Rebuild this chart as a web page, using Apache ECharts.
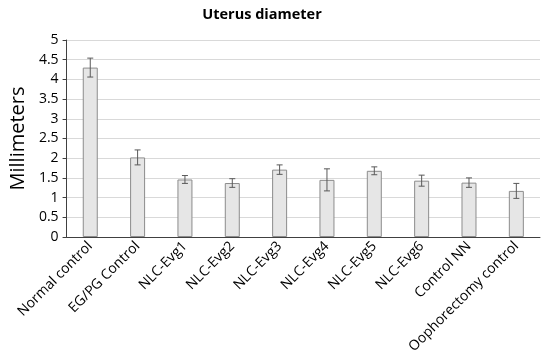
<!DOCTYPE html>
<html><head><meta charset="utf-8">
<script src="https://cdn.jsdelivr.net/npm/echarts@6/dist/echarts.min.js"></script>
<style>html,body{margin:0;padding:0;background:#fff}#c{width:550px;height:361px}</style>
</head><body><div id="c"></div>
<script>
var categories = ["Normal control","EG/PG Control","NLC-Evg1","NLC-Evg2","NLC-Evg3","NLC-Evg4","NLC-Evg5","NLC-Evg6","Control NN","Oophorectomy control"];
var means = [4.30, 2.02, 1.46, 1.37, 1.71, 1.45, 1.68, 1.43, 1.38, 1.17];
var errors = [0.24, 0.19, 0.10, 0.11, 0.12, 0.28, 0.10, 0.14, 0.12, 0.19];
var yTicks = {min: 0, max: 5, interval: 0.5};

var errData = means.map(function(m, i){ return [i, m - errors[i], m + errors[i]]; });
var FONT = "'Open Sans', 'Noto Sans', sans-serif";
var chart = echarts.init(document.getElementById('c'));
chart.setOption({
  animation: false,
  title: {text: 'Uterus diameter', left: 257, top: 2, textAlign: 'center',
    textStyle: {fontFamily: FONT, fontWeight: 'bold', fontSize: 14.5, color: '#000'}},
  grid: {left: 60, right: 10, top: 40, bottom: 124},
  xAxis: {type: 'category', data: categories,
    axisLine: {lineStyle: {color: '#404040', width: 1}},
    axisTick: {alignWithLabel: true, length: 4, lineStyle: {color: '#404040'}},
    axisLabel: {rotate: 45, fontFamily: FONT, fontSize: 14, color: '#000', margin: 7, interval: 0}},
  yAxis: {type: 'value', min: yTicks.min, max: yTicks.max, interval: yTicks.interval,
    name: 'Millimeters', nameLocation: 'middle', nameGap: 36,
    nameTextStyle: {fontFamily: FONT, fontSize: 20, color: '#000'},
    axisLine: {show: true, lineStyle: {color: '#404040'}},
    axisTick: {show: true, length: 4, lineStyle: {color: '#404040'}},
    axisLabel: {fontFamily: FONT, fontSize: 14, color: '#000', margin: 8},
    splitLine: {lineStyle: {color: '#d9d9d9'}}},
  series: [
    {type: 'bar', data: means, barWidth: 15,
     itemStyle: {color: '#e6e6e6', borderColor: '#8c8c8c', borderWidth: 1}},
    {type: 'custom', data: errData, z: 10,
     renderItem: function(params, api){
       var x = api.value(0);
       var lo = api.coord([x, api.value(1)]);
       var hi = api.coord([x, api.value(2)]);
       var w = 3;
       var st = {stroke: '#595959', lineWidth: 1};
       return {type: 'group', children: [
         {type: 'line', shape: {x1: lo[0], y1: lo[1], x2: hi[0], y2: hi[1]}, style: st},
         {type: 'line', shape: {x1: lo[0]-w, y1: lo[1], x2: lo[0]+w, y2: lo[1]}, style: st},
         {type: 'line', shape: {x1: hi[0]-w, y1: hi[1], x2: hi[0]+w, y2: hi[1]}, style: st}
       ]};
     }}
  ]
});
</script></body></html>
